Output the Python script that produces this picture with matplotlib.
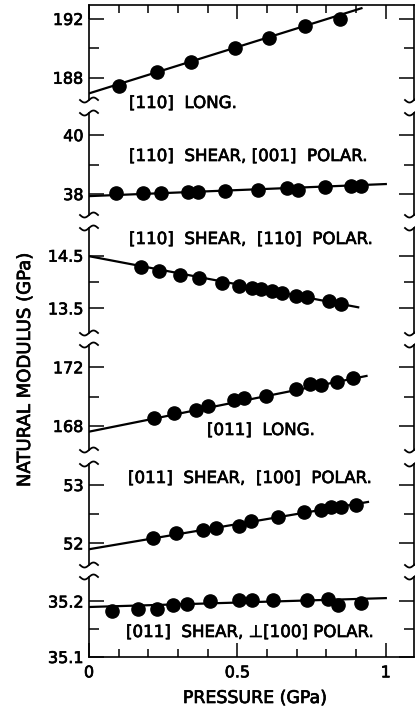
import numpy as np
import matplotlib.pyplot as plt
import matplotlib.patheffects as pe
from matplotlib.lines import Line2D

# pressure (GPa) and natural modulus (GPa), top panel first
p_110_long = [0.101, 0.229, 0.344, 0.492, 0.605, 0.728, 0.845]
m_110_long = [187.43, 188.37, 189.07, 190.04, 190.73, 191.52, 191.98]
fit_110_long = ([0.0, 0.918], [186.93, 192.73])

p_110_s001 = [0.091, 0.183, 0.243, 0.334, 0.368, 0.459, 0.571, 0.668, 0.703, 0.795, 0.882, 0.918]
m_110_s001 = [38.02, 38.04, 38.04, 38.07, 38.08, 38.11, 38.15, 38.19, 38.15, 38.23, 38.26, 38.27]
fit_110_s001 = ([0.0, 1.0], [37.93, 38.34])

p_110_s110 = [0.174, 0.237, 0.306, 0.370, 0.448, 0.506, 0.549, 0.581, 0.618, 0.651, 0.699, 0.733, 0.808, 0.848]
m_110_s110 = [14.29, 14.20, 14.13, 14.08, 13.99, 13.93, 13.89, 13.86, 13.82, 13.79, 13.74, 13.72, 13.63, 13.58]
fit_110_s110 = ([0.0, 0.907], [14.49, 13.52])

p_011_long = [0.220, 0.288, 0.362, 0.402, 0.489, 0.523, 0.598, 0.699, 0.744, 0.780, 0.834, 0.890]
m_011_long = [168.52, 168.86, 169.07, 169.38, 169.77, 169.89, 170.07, 170.50, 170.88, 170.82, 171.02, 171.25]
fit_011_long = ([0.0, 0.935], [167.61, 171.41])

p_011_s100 = [0.214, 0.292, 0.383, 0.428, 0.506, 0.545, 0.636, 0.724, 0.780, 0.816, 0.849, 0.901]
m_011_s100 = [52.09, 52.17, 52.23, 52.27, 52.30, 52.39, 52.46, 52.53, 52.57, 52.62, 52.63, 52.66]
fit_011_s100 = ([0.0, 0.940], [51.90, 52.71])

p_011_sperp = [0.077, 0.165, 0.228, 0.283, 0.329, 0.407, 0.506, 0.550, 0.621, 0.733, 0.806, 0.839, 0.918]
m_011_sperp = [35.182, 35.187, 35.186, 35.1935, 35.196, 35.200, 35.202, 35.202, 35.202, 35.202, 35.204, 35.194, 35.197]
fit_011_sperp = ([0.0, 1.0], [35.190, 35.206])

# y ranges, labelled ticks, unlabelled ticks
ylims = [(186.48, 192.95), (37.29, 40.75), (13.032, 15.025),
         (166.36, 173.52), (51.63, 53.36), (35.1, 35.244)]
yticks = [[188, 192], [38, 40], [13.5, 14.5], [168, 172], [52, 53], [35.1, 35.2]]
yticklabels = [['188', '192'], ['38', '40'], ['13.5', '14.5'],
               ['168', '172'], ['52', '53'], ['35.1', '35.2']]
yminor = [[190], [39], [14.0], [170], [52.5], [35.15]]

series = [(p_110_long, m_110_long, fit_110_long),
          (p_110_s001, m_110_s001, fit_110_s001),
          (p_110_s110, m_110_s110, fit_110_s110),
          (p_011_long, m_011_long, fit_011_long),
          (p_011_s100, m_011_s100, fit_011_s100),
          (p_011_sperp, m_011_sperp, fit_011_sperp)]

W, H = 415, 715
# panel extents in pixels (top, bottom)
rows = [(5, 100), (113, 215), (228, 333), (345, 450), (464, 565), (577, 657)]
x_left, x_right = 89, 414

plt.rcParams['font.family'] = 'DejaVu Sans'
thick = [pe.withStroke(linewidth=0.5, foreground='black')]
fig = plt.figure(figsize=(W / 100, H / 100), dpi=100)

axes = []
for i, (top, bot) in enumerate(rows):
    ax = fig.add_axes([x_left / W, 1 - bot / H, (x_right - x_left) / W, (bot - top) / H])
    p, m, fit = series[i]
    ax.plot(fit[0], fit[1], color='black', lw=1.6, zorder=2)
    ax.plot(p, m, 'o', color='black', ms=9.5, zorder=3)
    ax.set_xlim(0, 1.095)
    ax.set_ylim(*ylims[i])
    ax.set_yticks(yticks[i])
    ax.set_yticklabels(yticklabels[i])
    ax.set_yticks(yminor[i], minor=True)
    ax.tick_params(axis='y', which='both', direction='in', left=True, right=True,
                   width=1.1, labelsize=11.5, pad=4)
    ax.tick_params(axis='y', which='major', length=11)
    ax.tick_params(axis='y', which='minor', length=7)
    ax.set_xticks([0, 0.5, 1])
    ax.set_xticks(np.arange(0.1, 1.0, 0.1), minor=True)
    ax.set_xticklabels(['0', '0.5', '1'])
    for s in ax.spines.values():
        s.set_linewidth(1.2)
    ax.spines['top'].set_visible(i == 0)
    ax.spines['bottom'].set_visible(i == len(rows) - 1)
    ax.tick_params(axis='x', which='both', direction='in', width=1.1,
                   top=(i == 0), bottom=(i == len(rows) - 1),
                   labelbottom=(i == len(rows) - 1), labelsize=11.5, pad=6)
    ax.tick_params(axis='x', which='major', length=10)
    ax.tick_params(axis='x', which='minor', length=6)
    for lab in ax.get_xticklabels() + ax.get_yticklabels():
        lab.set_path_effects(thick)
    ax.patch.set_visible(False)
    axes.append(ax)

# break marks on both vertical axes
t = np.linspace(-1, 1, 30)
for i in range(len(rows) - 1):
    for y0 in (rows[i][1], rows[i + 1][0]):
        for x0 in (x_left, x_right):
            xs = (x0 + 9 * t) / W
            ys = 1 - (y0 - 2.5 * np.sin(np.pi * t)) / H
            fig.add_artist(Line2D(xs, ys, color='black', lw=1.3,
                                  transform=fig.transFigure, clip_on=False))

labels = [(129, 103, '[110]  LONG.'),
          (129, 156, '[110]  SHEAR, [001]  POLAR.'),
          (129, 239, '[110]  SHEAR,  [110]  POLAR.'),
          (207, 430, '[011]  LONG.'),
          (128, 478, '[011]  SHEAR,  [100]  POLAR.'),
          (126, 632, '[011]  SHEAR, \u22a5[100] POLAR.')]
for x, y, s in labels:
    fig.text(x / W, 1 - y / H, s, ha='left', va='center', fontsize=12,
             path_effects=thick)

fig.text(255 / W, 1 - 698 / H, 'PRESSURE (GPa)', ha='center', va='center',
         fontsize=12.5, path_effects=thick)
fig.text(25 / W, 1 - 370 / H, 'NATURAL MODULUS (GPa)', ha='center', va='center',
         rotation=90, fontsize=13, path_effects=thick)

fig.savefig('out.png', dpi=100)
